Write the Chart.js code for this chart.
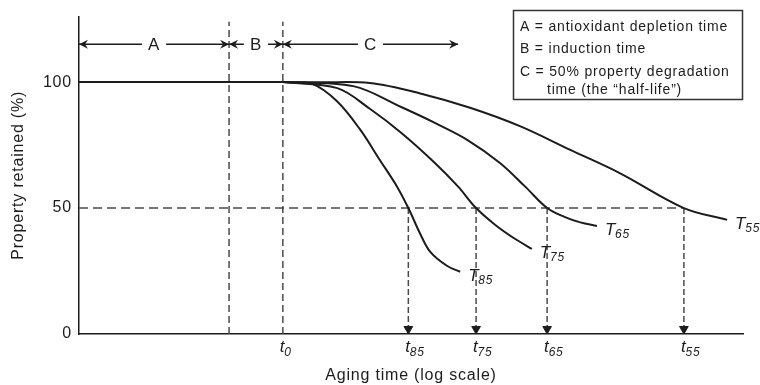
<!DOCTYPE html>
<html>
<head>
<meta charset="utf-8">
<script src="https://cdn.jsdelivr.net/npm/chart.js@4.4.1/dist/chart.umd.min.js"></script>
<style>
  html, body { margin: 0; padding: 0; background: #fff; }
  #wrap { width: 760px; height: 385px; }
</style>
</head>
<body>
<div id="wrap"><canvas id="chart"></canvas></div>
<script>
// aging time runs on an arbitrary (log) axis 0..100, property retained in %
const yTicks = [0, 50, 100];

const plateauTime = [0, 30.7];
const plateauProp = [100, 100];

const timeT85 = [30.7, 35.2, 38.9, 42.3, 45.3, 47.9, 49.6, 51.4, 52.9, 55.4, 57.4];
const propT85 = [100, 99.2, 92.3, 81.3, 69.1, 58.5, 50, 39.7, 32.6, 27.1, 24.7];

const timeT75 = [30.7, 38.9, 43.8, 48.6, 53.6, 57.1, 59.8, 62.7, 65.7, 68.2];
const propT75 = [100, 97.6, 89.4, 79.7, 67.9, 58.5, 50, 43.3, 37.7, 33.8];

const timeT65 = [30.7, 41.3, 48.6, 53.6, 58.4, 63.4, 67.2, 70.5, 73.2, 75.5, 78.0];
const propT65 = [100, 98.4, 90, 83.8, 77.2, 67.9, 58.5, 50, 46.4, 44.3, 42.9];

const timeT55 = [30.7, 36.3, 43.8, 51.4, 58.9, 66.4, 73.9, 81.5, 91.1, 97.6];
const propT55 = [100, 99.9, 99.6, 95.5, 89.8, 82.5, 73.2, 63.8, 50, 45.3];

const curveNames = ['85', '75', '65', '55'];

const phaseEdges = [0, 22.6, 30.7, 57.1];
const phaseLabels = ['A', 'B', 'C'];
const phaseRow = 115;
const phaseLineTop = 124;

const t0 = 30.7;
const halfLifeLevel = 50;
const halfLifeTimes = [49.6, 59.8, 70.5, 91.1];

const legendLines = [
    'A = antioxidant depletion time',
    'B = induction time',
    'C = 50% property degradation',
    'time (the \u201chalf-life\u201d)',
];

const ink = '#1c1c1c';
const dashInk = '#4a4a4a';
const family = '"Liberation Sans", Arial, sans-serif';

const toPoints = (xs, ys) => xs.map((v, i) => ({ x: v, y: ys[i] }));

const curves = [
    toPoints(timeT85, propT85),
    toPoints(timeT75, propT75),
    toPoints(timeT65, propT65),
    toPoints(timeT55, propT55),
];

const datasets = [];

curves.forEach((pts, i) => {
    datasets.push({
        label: 'T' + curveNames[i],
        data: pts,
        borderColor: ink,
        borderWidth: 2,
        pointRadius: 0,
        tension: 0.35,
    });
});

datasets.push({
    label: 'plateau',
    data: toPoints(plateauTime, plateauProp),
    borderColor: ink,
    borderWidth: 2,
    pointRadius: 0,
});

datasets.push({
    label: 'half level',
    data: [
        { x: 0, y: halfLifeLevel },
        { x: halfLifeTimes[halfLifeTimes.length - 1], y: halfLifeLevel },
    ],
    borderColor: dashInk,
    borderWidth: 1.5,
    borderDash: [9, 5],
    pointRadius: 0,
});

phaseEdges.slice(1, 3).forEach((t) => {
    datasets.push({
        label: 'phase edge',
        data: [{ x: t, y: 0 }, { x: t, y: phaseLineTop }],
        borderColor: dashInk,
        borderWidth: 1.5,
        borderDash: [7, 4],
        pointRadius: 0,
    });
});

halfLifeTimes.forEach((t) => {
    datasets.push({
        label: 'drop',
        data: [{ x: t, y: halfLifeLevel }, { x: t, y: 2 }],
        borderColor: dashInk,
        borderWidth: 1.5,
        borderDash: [6, 3],
        pointRadius: [0, 5],
        pointStyle: 'triangle',
        rotation: 180,
        pointBackgroundColor: ink,
        pointBorderColor: ink,
        pointBorderWidth: 1,
    });
});

function subLabel(ctx, main, sub, left, base, size, subSize, drop) {
    ctx.font = `italic ${size}px ${family}`;
    ctx.fillText(main, left, base);
    const w = ctx.measureText(main).width;
    ctx.font = `italic ${subSize}px ${family}`;
    ctx.fillText(sub, left + w - 1, base + drop);
}

function arrowHead(ctx, px, py, dir) {
    ctx.beginPath();
    ctx.moveTo(px, py);
    ctx.lineTo(px - dir * 9, py - 4.5);
    ctx.lineTo(px - dir * 6, py);
    ctx.lineTo(px - dir * 9, py + 4.5);
    ctx.closePath();
    ctx.fill();
}

const overlay = {
    id: 'overlay',
    beforeDraw(chart) {
        chart.ctx.letterSpacing = '0.8px';
    },
    afterDatasetsDraw(chart) {
        const { ctx, scales: { x, y } } = chart;
        ctx.save();
        ctx.fillStyle = ink;
        ctx.strokeStyle = ink;

        // A / B / C spans across the top
        ctx.font = `17px ${family}`;
        ctx.textAlign = 'center';
        ctx.textBaseline = 'middle';
        const rowY = y.getPixelForValue(phaseRow);
        phaseLabels.forEach((lab, i) => {
            const x1 = x.getPixelForValue(phaseEdges[i]);
            const x2 = x.getPixelForValue(phaseEdges[i + 1]);
            const mid = (x1 + x2) / 2;
            const half = ctx.measureText(lab).width / 2 + 6;
            ctx.lineWidth = 1.5;
            ctx.beginPath();
            ctx.moveTo(x1, rowY);
            ctx.lineTo(mid - half, rowY);
            ctx.moveTo(mid + half, rowY);
            ctx.lineTo(x2, rowY);
            ctx.stroke();
            arrowHead(ctx, x1, rowY, -1);
            arrowHead(ctx, x2, rowY, 1);
            ctx.fillText(lab, mid, rowY + 1);
        });

        // time labels under the axis
        ctx.textAlign = 'left';
        ctx.textBaseline = 'alphabetic';
        const base = x.top + 18;
        subLabel(ctx, 't', '0', x.getPixelForValue(t0) - 3, base, 17, 12, 4);
        halfLifeTimes.forEach((t, i) => {
            subLabel(ctx, 't', curveNames[i], x.getPixelForValue(t) - 3, base, 17, 12, 4);
        });

        // temperature labels at the curve ends
        curves.forEach((pts, i) => {
            const last = pts[pts.length - 1];
            const px = x.getPixelForValue(last.x) + 8;
            const py = y.getPixelForValue(last.y) + 9;
            subLabel(ctx, 'T', curveNames[i], px, py, 17, 12, 3);
        });

        // key box
        ctx.lineWidth = 1.5;
        ctx.strokeStyle = '#333';
        ctx.strokeRect(513.5, 10.5, 229, 89);
        ctx.font = `14px ${family}`;
        const baselines = [31, 53, 76, 94];
        legendLines.forEach((line, i) => {
            ctx.fillText(line, i === 3 ? 547 : 520, baselines[i]);
        });

        ctx.restore();
    },
};

new Chart(document.getElementById('chart'), {
    type: 'line',
    data: { datasets },
    options: {
        responsive: true,
        maintainAspectRatio: false,
        animation: false,
        layout: { padding: { top: 15, right: 17, left: 0, bottom: 0 } },
        plugins: {
            legend: { display: false },
            tooltip: { enabled: false },
        },
        scales: {
            x: {
                type: 'linear',
                min: 0,
                max: 100,
                grid: { display: false, drawTicks: false },
                border: { display: true, color: ink, width: 1.5 },
                ticks: { display: false },
                title: {
                    display: true,
                    text: 'Aging time (log scale)',
                    color: ink,
                    font: { family, size: 16 },
                    padding: { top: 0, bottom: 0 },
                },
                afterFit: (scale) => { scale.height = 51; },
            },
            y: {
                type: 'linear',
                min: 0,
                max: 126,
                grid: { display: false, drawTicks: false },
                border: { display: true, color: ink, width: 1.5 },
                afterBuildTicks: (scale) => {
                    scale.ticks = yTicks.map((v) => ({ value: v }));
                },
                ticks: {
                    color: ink,
                    padding: 7,
                    font: { family, size: 16 },
                },
                title: {
                    display: true,
                    text: 'Property retained (%)',
                    color: ink,
                    font: { family, size: 16 },
                    padding: { top: 9, bottom: 0 },
                },
                afterFit: (scale) => { scale.width = 79; },
            },
        },
    },
    plugins: [overlay],
});
</script>
</body>
</html>
